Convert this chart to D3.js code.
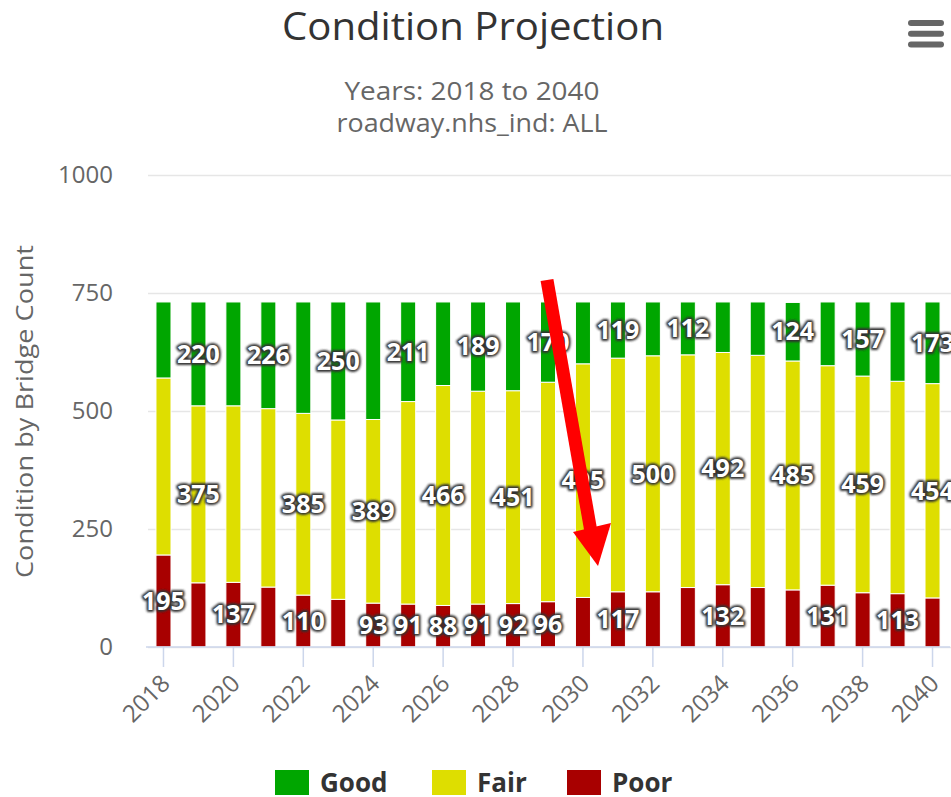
<!DOCTYPE html>
<html lang="en">
<head>
	<meta charset="UTF-8">
	<title>Condition Projection</title>
	<script src="https://d3js.org/d3.v7.min.js" charset="utf-8"></script>
	<style>
		body { margin: 0; background: #fff; }
		text { font-family: "Open Sans", "DejaVu Sans", sans-serif; }
	</style>
</head>
<body>
	<svg></svg>
	<script>
		// values
		const years = d3.range(2018, 2041)
		const poor = [195, 136, 137, 127, 110, 101, 93, 91, 88, 91, 92, 96, 105, 117, 117, 126, 132, 126, 121, 131, 115, 113, 104]
		const fair = [375, 375, 374, 378, 385, 380, 389, 429, 466, 451, 451, 465, 495, 495, 500, 493, 492, 492, 485, 465, 459, 450, 454]
		const good = [161, 220, 220, 226, 236, 250, 249, 211, 177, 189, 188, 170, 131, 119, 114, 112, 107, 113, 124, 135, 157, 168, 173]
		const yTicks = [0, 250, 500, 750, 1000]
		const xTickYears = d3.range(2018, 2041, 2)

		// which data labels survive the overlap hiding in the picture
		const goodLabelYears = [2019, 2021, 2023, 2025, 2027, 2029, 2031, 2033, 2036, 2038, 2040]
		const fairLabelYears = [2019, 2022, 2024, 2026, 2028, 2030, 2032, 2034, 2036, 2038, 2040]
		const poorLabelYears = [2018, 2020, 2022, 2024, 2025, 2026, 2027, 2028, 2029, 2031, 2034, 2037, 2039]

		const seriesNames = ['Good', 'Fair', 'Poor']
		const colors = { Good: '#00a600', Fair: '#dede00', Poor: '#a80000' }
		const labelYears = { Good: goodLabelYears, Fair: fairLabelYears, Poor: poorLabelYears }

		const rows = years.map((y, i) => ({ year: y, Good: good[i], Fair: fair[i], Poor: poor[i] }))

		let svg = d3.select('svg')
			.attr('width', 951)
			.attr('height', 797)

		let defs = svg.append('defs')
		defs.append('filter').attr('id', 'halo')
			.attr('x', '-20%').attr('y', '-30%').attr('width', '140%').attr('height', '160%')
			.append('feGaussianBlur').attr('stdDeviation', 1.2)

		let x = d3.scaleBand()
			.domain(years)
			.range([146, 950])
			.paddingInner(0.57)
			.paddingOuter(0.285)

		let y = d3.scaleLinear()
			.domain([0, 1000])
			.range([647, 175])

		// title + subtitle
		svg.append('text')
			.attr('x', 473).attr('y', 40)
			.attr('text-anchor', 'middle')
			.attr('fill', '#333')
			.attr('textLength', 382)
			.attr('lengthAdjust', 'spacingAndGlyphs')
			.style('font-size', '39px')
			.text('Condition Projection')

		svg.append('text')
			.attr('x', 472).attr('y', 100)
			.attr('text-anchor', 'middle')
			.attr('fill', '#666')
			.attr('textLength', 255)
			.attr('lengthAdjust', 'spacingAndGlyphs')
			.style('font-size', '25px')
			.text('Years: 2018 to 2040')

		svg.append('text')
			.attr('x', 472).attr('y', 132)
			.attr('text-anchor', 'middle')
			.attr('fill', '#666')
			.attr('textLength', 271)
			.attr('lengthAdjust', 'spacingAndGlyphs')
			.style('font-size', '25px')
			.text('roadway.nhs_ind: ALL')

		// menu icon
		svg.append('g').selectAll('rect')
			.data([0, 1, 2])
			.join('rect')
			.attr('x', 908).attr('y', d => 20 + d * 10.7)
			.attr('width', 36).attr('height', 6).attr('rx', 3)
			.attr('fill', '#666')

		// y grid + labels
		let yAxis = svg.append('g')
			.attr('transform', 'translate(148,0)')
			.call(d3.axisLeft(y).tickValues(yTicks).tickFormat(d3.format('d')).tickSize(-803).tickPadding(35))
		yAxis.select('.domain').remove()
		yAxis.selectAll('.tick line').attr('stroke', '#e6e6e6').attr('stroke-width', 1.5)
		yAxis.selectAll('.tick text')
			.attr('fill', '#666')
			.style('font-size', '24px')
			.style('font-family', '"Open Sans", sans-serif')

		svg.append('text')
			.attr('transform', 'translate(33,411.5) rotate(-90)')
			.attr('text-anchor', 'middle')
			.attr('fill', '#666')
			.attr('textLength', 333)
			.attr('lengthAdjust', 'spacingAndGlyphs')
			.style('font-size', '24px')
			.text('Condition by Bridge Count')

		// stacked bars
		let stack = d3.stack().keys(['Poor', 'Fair', 'Good'])(rows)

		let layers = svg.append('g')
			.selectAll('g')
			.data(stack)
			.join('g')
			.attr('fill', d => colors[d.key])

		layers.selectAll('rect')
			.data(d => d)
			.join('rect')
			.attr('x', d => x(d.data.year))
			.attr('y', d => y(d[1]))
			.attr('width', x.bandwidth())
			.attr('height', d => y(d[0]) - y(d[1]))
			.attr('stroke', '#fff')
			.attr('stroke-width', 1)

		// x axis
		let xAxis = svg.append('g')
			.attr('transform', 'translate(0,647)')
			.call(d3.axisBottom(x).tickValues(xTickYears).tickSize(20).tickSizeOuter(0))
		xAxis.select('.domain').attr('stroke', '#ccd6eb').attr('stroke-width', 1.5)
			.attr('d', 'M146,0H950')
		xAxis.selectAll('.tick line').attr('stroke', '#ccd6eb').attr('stroke-width', 1.5)
		xAxis.selectAll('.tick text')
			.attr('fill', '#666')
			.style('font-size', '24px')
			.style('font-family', '"Open Sans", sans-serif')
			.attr('text-anchor', 'end')
			.attr('dy', null)
			.attr('y', 0)
			.attr('transform', 'translate(8,38) rotate(-45)')

		// data labels
		let labels = []
		stack.forEach(layer => {
			layer.forEach(d => {
				if (labelYears[layer.key].includes(d.data.year)) {
					labels.push({ x: x(d.data.year) + x.bandwidth() / 2, y: (y(d[0]) + y(d[1])) / 2, v: d.data[layer.key] })
				}
			})
		})

		let lg = svg.append('g')
			.style('font-size', '25px')
			.style('font-weight', 'bold')
			.attr('text-anchor', 'middle')

		lg.selectAll('text.halo')
			.data(labels)
			.join('text')
			.attr('class', 'halo')
			.attr('x', d => d.x).attr('y', d => d.y)
			.attr('dy', '0.35em')
			.attr('fill', '#555')
			.attr('stroke', '#333')
			.attr('stroke-width', 4)
			.attr('stroke-linejoin', 'round')
			.attr('filter', 'url(#halo)')
			.text(d => d.v)

		lg.selectAll('text.val')
			.data(labels)
			.join('text')
			.attr('class', 'val')
			.attr('x', d => d.x).attr('y', d => d.y)
			.attr('dy', '0.35em')
			.attr('fill', '#fff')
			.text(d => d.v)

		// legend
		let legendX = { Good: 275, Fair: 432, Poor: 567 }
		let legend = svg.append('g')
			.selectAll('g')
			.data(seriesNames)
			.join('g')
			.attr('transform', d => `translate(${legendX[d]},770)`)
		legend.append('rect')
			.attr('width', 34).attr('height', 25)
			.attr('fill', d => colors[d])
		legend.append('text')
			.attr('x', 45).attr('y', 22)
			.attr('fill', '#333')
			.style('font-size', '26px')
			.style('font-weight', 'bold')
			.text(d => d)

		// red annotation arrow
		svg.append('line')
			.attr('x1', 547).attr('y1', 280)
			.attr('x2', 591).attr('y2', 532)
			.attr('stroke', '#ff0000')
			.attr('stroke-width', 13)
		svg.append('path')
			.attr('d', 'M573,532L611,523L598,566Z')
			.attr('fill', '#ff0000')
	</script>
</body>
</html>
